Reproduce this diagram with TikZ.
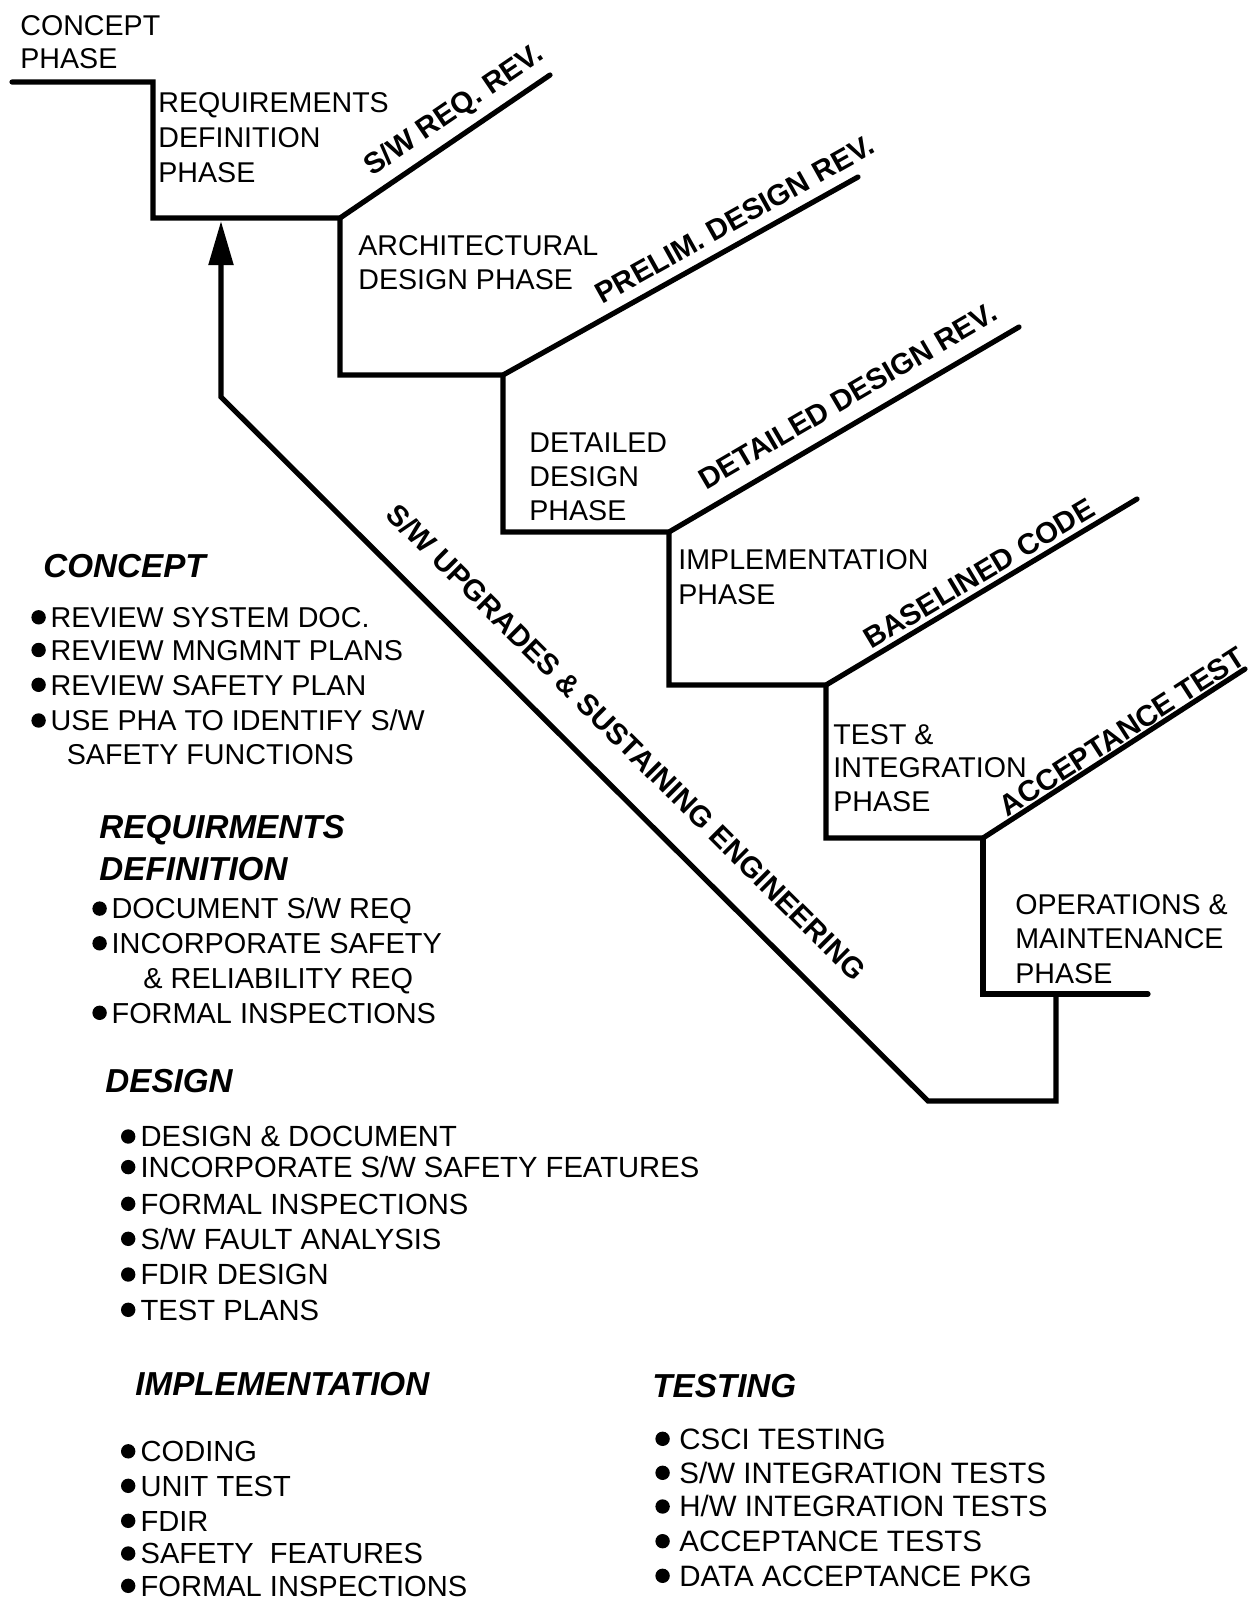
\documentclass[tikz,border=0pt]{standalone}
\usepackage{fontspec}
\setmainfont{Liberation Sans}
\usetikzlibrary{arrows.meta}
\newcommand\bul[1][9.6pt]{\makebox[#1][l]{\tikz[baseline=0pt]\fill (3.6pt,5.1pt) circle[radius=3.6pt];}}
\begin{document}
\begin{tikzpicture}[x=0.5pt,y=-0.5pt,
  ln/.style={line width=2.6pt, line cap=round},
  ph/.style={anchor=base west, inner sep=0, font=\fontsize{14.3pt}{17pt}\selectfont},
  itm/.style={anchor=base west, inner sep=0, font=\fontsize{#1}{17pt}\selectfont},
  hd/.style={anchor=base west, inner sep=0, font=\fontsize{16.6pt}{20pt}\selectfont\bfseries\itshape},
  rev/.style={sloped, inner sep=0, font=\fontsize{14.7pt}{17pt}\selectfont\bfseries}]
\fill[white] (0,0) rectangle (1255,1603);
\useasboundingbox (0,0) rectangle (1255,1603);
% stair coordinates
\coordinate (a0) at (12,82);
\coordinate (a1) at (153,82);
\coordinate (a2) at (153,218);
\coordinate (b0) at (340,218);
\coordinate (bend) at (550,75);
\coordinate (b1) at (340,375);
\coordinate (c0) at (503,375);
\coordinate (cend) at (858,177);
\coordinate (c1) at (503,532);
\coordinate (d0) at (669,532);
\coordinate (dend) at (1019,327);
\coordinate (d1) at (669,685);
\coordinate (e0) at (826,685);
\coordinate (eend) at (1137,499);
\coordinate (e1) at (826,838);
\coordinate (f0) at (983,838);
\coordinate (fend) at (1245,669);
\coordinate (f1) at (983,994);
\coordinate (fend2) at (1148,994);
\coordinate (g0) at (1056,994);
\coordinate (g1) at (1056,1101);
\coordinate (g2) at (928,1101);
\coordinate (g3) at (221,397);
\coordinate (tip) at (221,221);
% stairs
\draw[ln] (a0) -- (a1) -- (a2) -- (b0) -- node[rev, pos=0.61, above=4pt] (rv1) {S/W REQ. REV.} (bend);
\draw[ln] (b0) -- (b1) -- (c0) -- node[rev, pos=0.685, above=5pt] (rv2) {PRELIM. DESIGN REV.} (cend);
\draw[ln] (c0) -- (c1) -- (d0) -- node[rev, pos=0.55, above=7pt] (rv3) {DETAILED DESIGN REV.} (dend);
\draw[ln] (d0) -- (d1) -- (e0) -- node[rev, pos=0.52, above=2pt] (rv4) {BASELINED CODE} (eend);
\draw[ln] (e0) -- (e1) -- (f0) -- node[rev, pos=0.56, above=0.5pt] (rv5) {ACCEPTANCE TEST} (fend);
\draw[ln] (f0) -- (f1) -- (fend2);
% return loop
\draw[ln, line join=miter, -{Triangle[length=22pt,width=12pt]}] (g0) -- (g1) -- (g2) -- node[rev, pos=0.468, above=14pt] (up) {S/W UPGRADES \& SUSTAINING ENGINEERING} (g3) -- (tip);
% phase labels
\node[ph] (cp1) at (20,35) {CONCEPT};
\node[ph] (cp2) at (20,68.5) {PHASE};
\node[ph] (rq1) at (158,112.4) {REQUIREMENTS};
\node[ph] (rq2) at (158,147.2) {DEFINITION};
\node[ph] (rq3) at (158,182) {PHASE};
\node[ph] (ar1) at (358,255.5) {ARCHITECTURAL};
\node[ph] (ar2) at (358,289.2) {DESIGN PHASE};
\node[ph] (dd1) at (529,452.7) {DETAILED};
\node[ph] (dd2) at (529,486.5) {DESIGN};
\node[ph] (dd3) at (529,520) {PHASE};
\node[ph] (im1) at (678,569.3) {IMPLEMENTATION};
\node[ph] (im2) at (678,604) {PHASE};
\node[ph] (ti1) at (833,744) {TEST \&};
\node[ph] (ti2) at (833,777.7) {INTEGRATION};
\node[ph] (ti3) at (833,811.5) {PHASE};
\node[ph] (om1) at (1015,914.7) {OPERATIONS \&};
\node[ph] (om2) at (1015,948.4) {MAINTENANCE};
\node[ph] (om3) at (1015,983) {PHASE};
% concept list
\node[hd] (hc) at (43,577.4) {CONCEPT};
\node[itm=14.35pt] (c1) at (31,627.5) {\bul REVIEW SYSTEM DOC.};
\node[itm=14.35pt] (c2) at (31,660.2) {\bul REVIEW MNGMNT PLANS};
\node[itm=14.35pt] (c3) at (31,695) {\bul REVIEW SAFETY PLAN};
\node[itm=14.35pt] (c4) at (31,730.7) {\bul USE PHA TO IDENTIFY S/W};
\node[itm=14.35pt] (c5) at (66.4,764.5) {SAFETY FUNCTIONS};
% requirements list
\node[hd] (hr1) at (99,838) {REQUIRMENTS};
\node[hd] (hr2) at (99,880) {DEFINITION};
\node[itm=14.45pt] (r1) at (92,918.8) {\bul DOCUMENT S/W REQ};
\node[itm=14.45pt] (r2) at (92,953.5) {\bul INCORPORATE SAFETY};
\node[itm=14.45pt] (r3) at (143,988.3) {\& RELIABILITY REQ};
\node[itm=14.45pt] (r4) at (92,1023) {\bul FORMAL INSPECTIONS};
% design list
\node[hd] (hdz) at (105,1092.5) {DESIGN};
\node[itm=14.6pt] (s1) at (120.6,1146.7) {\bul[9.8pt]DESIGN \& DOCUMENT};
\node[itm=14.6pt] (s2) at (120.6,1177.3) {\bul[9.8pt]INCORPORATE S/W SAFETY FEATURES};
\node[itm=14.6pt] (s3) at (120.6,1214) {\bul[9.8pt]FORMAL INSPECTIONS};
\node[itm=14.6pt] (s4) at (120.6,1249) {\bul[9.8pt]S/W FAULT ANALYSIS};
\node[itm=14.6pt] (s5) at (120.6,1284.7) {\bul[9.8pt]FDIR DESIGN};
\node[itm=14.6pt] (s6) at (120.6,1320) {\bul[9.8pt]TEST PLANS};
% implementation list
\node[hd] (hi) at (135,1395) {IMPLEMENTATION};
\node[itm=14.55pt] (i1) at (120.6,1461.5) {\bul[9.8pt]CODING};
\node[itm=14.55pt] (i2) at (120.6,1496) {\bul[9.8pt]UNIT TEST};
\node[itm=14.55pt] (i3) at (120.6,1531) {\bul[9.8pt]FDIR};
\node[itm=14.55pt] (i4) at (120.6,1563.7) {\bul[9.8pt]SAFETY\ \ FEATURES};
\node[itm=14.55pt] (i5) at (120.6,1596) {\bul[9.8pt]FORMAL INSPECTIONS};
% testing list
\node[hd] (ht) at (652,1397) {TESTING};
\node[itm=14.75pt] (t1) at (655,1449) {\bul[12pt]CSCI TESTING};
\node[itm=14.75pt] (t2) at (655,1483) {\bul[12pt]S/W INTEGRATION TESTS};
\node[itm=14.75pt] (t3) at (655,1516.7) {\bul[12pt]H/W INTEGRATION TESTS};
\node[itm=14.75pt] (t4) at (655,1551.4) {\bul[12pt]ACCEPTANCE TESTS};
\node[itm=14.75pt] (t5) at (655,1586) {\bul[12pt]DATA ACCEPTANCE PKG};
\end{tikzpicture}
\end{document}
